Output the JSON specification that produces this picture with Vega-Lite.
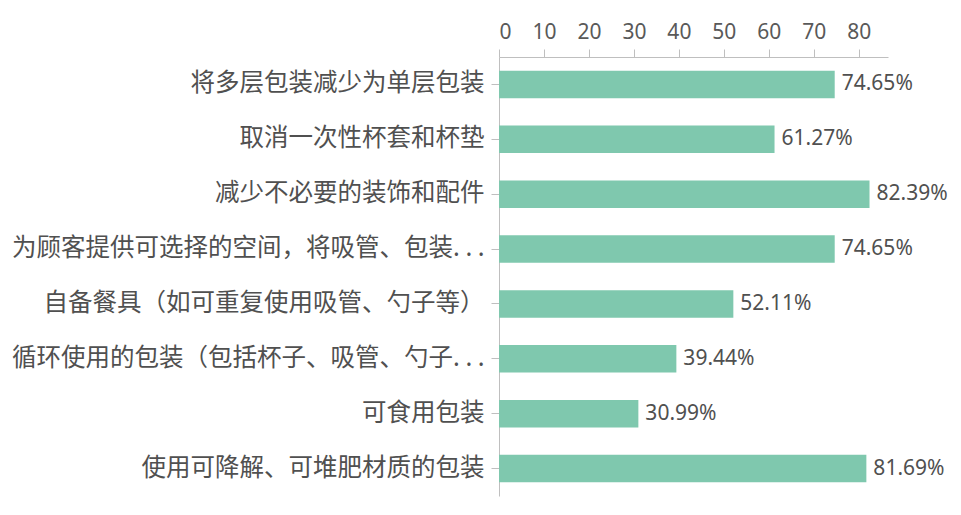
{
  "$schema": "https://vega.github.io/schema/vega-lite/v6.json",
  "width": 389,
  "height": 439,
  "autosize": "none",
  "padding": {"left": 499, "top": 57, "right": 73, "bottom": 19},
  "background": "white",
  "config": {
    "view": {"stroke": null},
    "font": "Noto Sans CJK SC"
  },
  "data": {
    "values": [
      {"item": "将多层包装减少为单层包装", "pct": 74.65},
      {"item": "取消一次性杯套和杯垫", "pct": 61.27},
      {"item": "减少不必要的装饰和配件", "pct": 82.39},
      {"item": "为顾客提供可选择的空间，将吸管、包装. . .", "pct": 74.65},
      {"item": "自备餐具（如可重复使用吸管、勺子等）", "pct": 52.11},
      {"item": "循环使用的包装（包括杯子、吸管、勺子. . .", "pct": 39.44},
      {"item": "可食用包装", "pct": 30.99},
      {"item": "使用可降解、可堆肥材质的包装", "pct": 81.69}
    ]
  },
  "transform": [
    {"calculate": "format(datum.pct, '.2f') + '%'", "as": "label"}
  ],
  "encoding": {
    "y": {
      "field": "item",
      "type": "nominal",
      "sort": null,
      "title": null,
      "scale": {"paddingInner": 0.5, "paddingOuter": 0.25},
      "axis": {
        "domainColor": "#bfbfbf",
        "tickColor": "#bfbfbf",
        "tickSize": 8,
        "labelPadding": 7,
        "labelFontSize": 24.5,
        "labelColor": "#505050",
        "labelLimit": 600,
        "labelFont": "Noto Sans CJK SC"
      }
    },
    "x": {
      "field": "pct",
      "type": "quantitative",
      "title": null,
      "scale": {"domain": [0, 86.5], "nice": false},
      "axis": {
        "orient": "top",
        "values": [0, 10, 20, 30, 40, 50, 60, 70, 80],
        "grid": false,
        "domainColor": "#bfbfbf",
        "tickColor": "#bfbfbf",
        "tickSize": 8,
        "labelPadding": 7,
        "labelFontSize": 21,
        "labelColor": "#595959",
        "labelFont": "Noto Sans"
      }
    }
  },
  "layer": [
    {
      "mark": {"type": "bar", "color": "#7fc8ae"}
    },
    {
      "mark": {
        "type": "text",
        "align": "left",
        "baseline": "middle",
        "dx": 7,
        "fontSize": 21,
        "color": "#505050",
        "font": "Noto Sans"
      },
      "encoding": {
        "text": {"field": "label", "type": "nominal"}
      }
    }
  ]
}
